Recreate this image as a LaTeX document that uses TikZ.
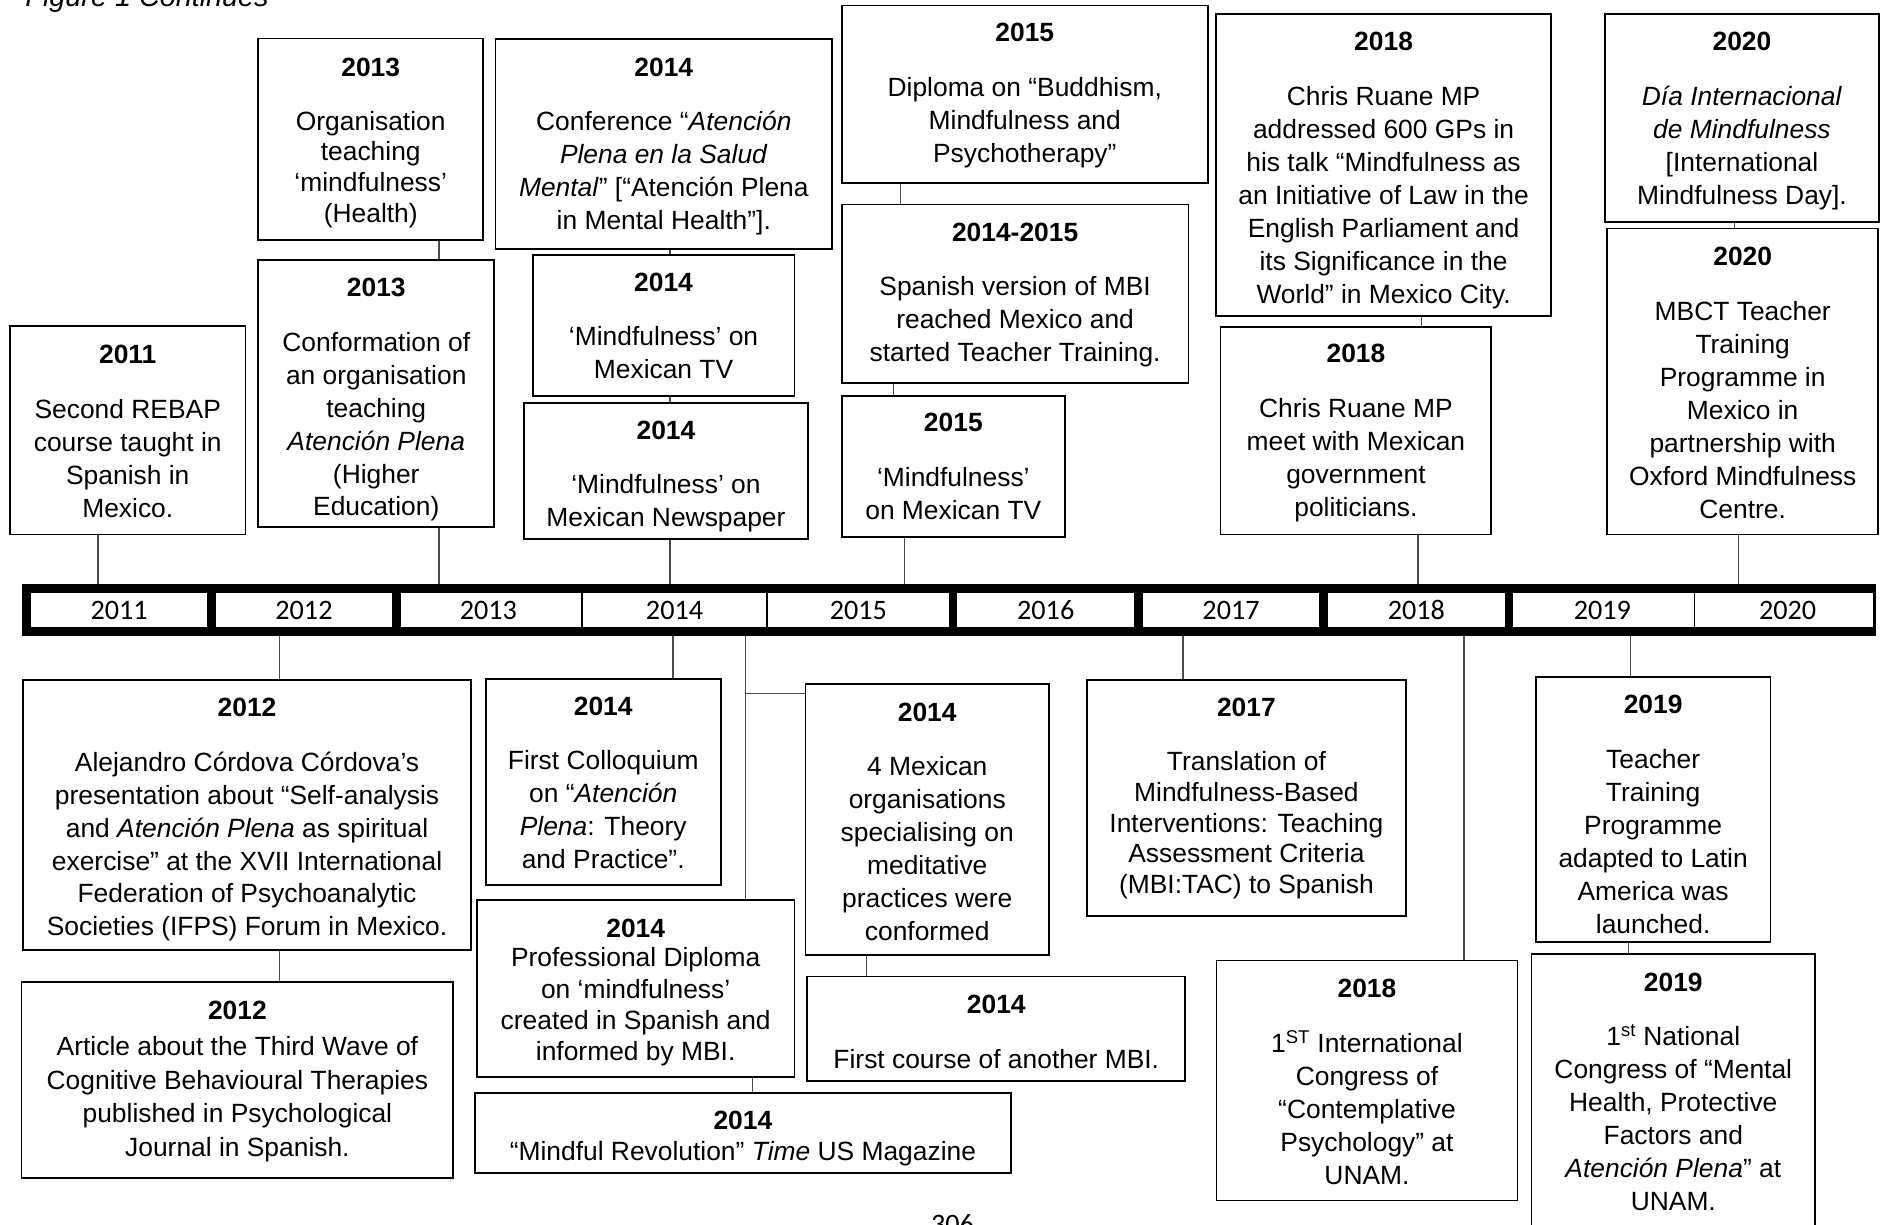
\documentclass[tikz,border=0pt]{standalone}
\usepackage{fontspec}
\setmainfont{Liberation Sans}
\newfontfamily\calfont{Carlito}
% \yr[gap after title]{downward shift of the text block}{year}
\newcommand\yr[3][18pt]{\rule{0pt}{\dimexpr 15.5pt+#2pt*2\relax}\textbf{#3}\\[#1]}
\newcommand\EvBox[7][]{%
  \node[evbox,#1,minimum width={(#5-#3)*1pt},minimum height={(#6-#4)*1pt}] (#2) at ({(#3+#5)/2},{(#4+#6)/2}) {#7};}
\newcommand\YearCell[5][0]{%
  \node[yearcell,minimum width={(#5-#4)*1pt}] (#2) at ({(#4+#5)/2},508.5) {\hspace*{#1pt}#3\hspace*{-#1pt}};}
\begin{document}
\begin{tikzpicture}[x=1pt,y=-1pt,
  evbox/.style={draw=black,line width=1.5pt,align=center,inner sep=0pt,font=\fontsize{22}{27.5}\selectfont},
  conn/.style={draw=black!70,line width=1.2pt},
  yearcell/.style={fill=white,inner sep=0pt,minimum height=29pt,font=\calfont\fontsize{23.5}{24}\selectfont},
  barstyle/.style={fill=black,inner sep=0pt},
  pagetext/.style={inner sep=0pt}]
\useasboundingbox (0,0) rectangle (1568,1021);

% heading and page number (cut by the page edge, as in the source)
\node[pagetext,anchor=base west,font=\itshape\fontsize{24}{24}\selectfont] (figtitle) at (21,5.5) {Figure 1 Continues};
\node[pagetext,anchor=base,font=\calfont\fontsize{23.5}{24}\selectfont] (pagenum) at (794,1028.5) {306};

% timeline bar
\node[barstyle,minimum width=1545.7pt,minimum height=43.3pt] (bar) at (791.15,508.35) {};
\YearCell{y2011}{2011}{25.8}{172.8}
\YearCell{y2012}{2012}{180.0}{326.8}
\YearCell[-2]{y2013}{2013}{334.0}{484.3}
\YearCell{y2014}{2014}{485.7}{638.9}
\YearCell{y2015}{2015}{640.3}{790.8}
\YearCell{y2016}{2016}{798.0}{945.4}
\YearCell{y2017}{2017}{952.6}{1099.8}
\YearCell{y2018}{2018}{1107.0}{1254.4}
\YearCell[-1]{y2019}{2019}{1261.6}{1411.9}
\YearCell[3]{y2020}{2020}{1413.3}{1561.0}

% ---------- events above the bar ----------
\EvBox{b2011}{8.3}{271.7}{204.7}{445.5}{\yr{1}{2011}Second REBAP\\course taught in\\Spanish in\\Mexico.}
\EvBox[font=\fontsize{22}{25.7}\selectfont]{b2013a}{215.3}{32.1}{402.8}{200}{\yr[19.3pt]{3}{2013}Organisation\\teaching\\‘mindfulness’\\(Health)}
\EvBox{b2013b}{215.3}{216.7}{412}{439.6}{\yr{5}{2013}Conformation of\\an organisation\\teaching\\\textit{Atención Plena}\\(Higher\\Education)}
\EvBox{b2014conf}{413}{32.7}{693.7}{207.5}{\yr{2}{2014}Conference “\textit{Atención}\\\textit{Plena en la Salud}\\\textit{Mental}” [“Atención Plena\\in Mental Health”].}
\EvBox{b2014tv}{444}{212.8}{662.3}{330.4}{\yr{0}{2014}‘Mindfulness’ on\\Mexican TV}
\EvBox{b2014news}{437}{335.7}{673.3}{449.4}{\yr{4.5}{2014}‘Mindfulness’ on\\Mexican Newspaper}
\EvBox{b2015dip}{701.7}{4.5}{1006.8}{152.4}{\yr{1}{2015}Diploma on “Buddhism,\\Mindfulness and\\Psychotherapy”}
\EvBox{b1415}{701.7}{170.5}{990.7}{319.3}{\yr{1}{2014-2015}Spanish version of MBI\\reached Mexico and\\started Teacher Training.}
\EvBox{b2015tv}{701.7}{330.4}{887.7}{447.3}{\yr{0}{2015}‘Mindfulness’\\on Mexican TV}
\EvBox{b2018a}{1013.7}{11.9}{1293}{263.4}{\yr{4.5}{2018}Chris Ruane MP\\addressed 600 GPs in\\his talk “Mindfulness as\\an Initiative of Law in the\\English Parliament and\\its Significance in the\\World” in Mexico City.}
\EvBox{b2018b}{1017.4}{272.3}{1243.2}{445.5}{\yr{2}{2018}Chris Ruane MP\\meet with Mexican\\government\\politicians.}
\EvBox{b2020a}{1337.7}{11.9}{1566.5}{185}{\yr{2.5}{2020}\textit{Día Internacional}\\\textit{de Mindfulness}\\{[}International\\Mindfulness Day].}
\EvBox{b2020b}{1339.6}{190.5}{1565.8}{445.5}{\yr{1}{2020}MBCT Teacher\\Training\\Programme in\\Mexico in\\partnership with\\Oxford Mindfulness\\Centre.}

% ---------- events below the bar ----------
\EvBox{b2012a}{19.4}{566.7}{392.5}{791.8}{\yr{4}{2012}Alejandro Córdova Córdova’s\\presentation about “Self-analysis\\and \textit{Atención Plena} as spiritual\\exercise” at the XVII International\\Federation of Psychoanalytic\\Societies (IFPS) Forum in Mexico.}
\EvBox[font=\fontsize{22}{28}\selectfont]{b2012b}{18}{818.3}{377.8}{981.7}{\yr[2pt]{1.5}{2012}Article about the Third Wave of\\Cognitive Behavioural Therapies\\published in Psychological\\Journal in Spanish.}
\EvBox{b2014col}{404.8}{566.3}{600.9}{737.8}{\yr{0.5}{2014}First Colloquium\\on “\textit{Atención}\\\textit{Plena}: Theory\\and Practice”.}
\EvBox[font=\fontsize{22}{26}\selectfont]{b2014dip}{397.5}{750.4}{662.3}{897.8}{\yr[-1pt]{3}{2014}Professional Diploma\\on ‘mindfulness’\\created in Spanish and\\informed by MBI.}
\EvBox{b2014org}{671.5}{570}{874.4}{796}{\yr{2}{2014}4 Mexican\\organisations\\specialising on\\meditative\\practices were\\conformed}
\EvBox{b2014course}{673}{814}{988}{901}{\yr{2.5}{2014}First course of another MBI.}
\EvBox{b2014time}{395.8}{910.8}{842.8}{978}{\yr[-1.5pt]{4.5}{2014}“Mindful Revolution” \textit{Time} US Magazine}
\EvBox[font=\fontsize{22}{25.75}\selectfont]{b2017}{906}{566.7}{1172}{763.5}{\yr[19.25pt]{0.5}{2017}Translation of\\Mindfulness-Based\\Interventions: Teaching\\Assessment Criteria\\(MBI:TAC) to Spanish}
\EvBox{b2018c}{1014}{800.7}{1265}{1000.8}{\yr{1}{2018}1\textsuperscript{ST} International\\Congress of\\“Contemplative\\Psychology” at\\UNAM.}
\EvBox{b2019a}{1280.3}{564.6}{1475.8}{785.4}{\yr{4}{2019}Teacher\\Training\\Programme\\adapted to Latin\\America was\\launched.}
\EvBox{b2019b}{1276.7}{795.3}{1513}{1022}{\yr{1.5}{2019}1\textsuperscript{st} National\\Congress of “Mental\\Health, Protective\\Factors and\\\textit{Atención Plena}” at\\UNAM.}

% ---------- connectors above ----------
\draw[conn] (81.7,0 |- b2011.south) -- (81.7,0 |- bar.north);
\draw[conn] (366,0 |- b2013a.south) -- (366,0 |- b2013b.north);
\draw[conn] (366,0 |- b2013b.south) -- (366,0 |- bar.north);
\draw[conn] (558.5,0 |- b2014conf.south) -- (558.5,0 |- b2014tv.north);
\draw[conn] (558.5,0 |- b2014tv.south) -- (558.5,0 |- b2014news.north);
\draw[conn] (558.5,0 |- b2014news.south) -- (558.5,0 |- bar.north);
\draw[conn] (750.5,0 |- b2015dip.south) -- (750.5,0 |- b1415.north);
\draw[conn] (745,0 |- b1415.south) -- (745,0 |- b2015tv.north);
\draw[conn] (754,0 |- b2015tv.south) -- (754,0 |- bar.north);
\draw[conn] (1185,0 |- b2018a.south) -- (1185,0 |- b2018b.north);
\draw[conn] (1182,0 |- b2018b.south) -- (1182,0 |- bar.north);
\draw[conn] (1446,0 |- b2020a.south) -- (1446,0 |- b2020b.north);
\draw[conn] (1449,0 |- b2020b.south) -- (1449,0 |- bar.north);

% ---------- connectors below ----------
\draw[conn] (233,0 |- bar.south) -- (233,0 |- b2012a.north);
\draw[conn] (233,0 |- b2012a.south) -- (233,0 |- b2012b.north);
\draw[conn] (561,0 |- bar.south) -- (561,0 |- b2014col.north);
\coordinate (j2014) at (621.5,578);
\draw[conn] (621.5,0 |- bar.south) -- (621.5,0 |- b2014dip.north);
\draw[conn] (j2014) -- (j2014 -| b2014org.west);
\draw[conn] (722.5,0 |- b2014org.south) -- (722.5,0 |- b2014course.north);
\draw[conn] (627.5,0 |- b2014dip.south) -- (627.5,0 |- b2014time.north);
\draw[conn] (986,0 |- bar.south) -- (986,0 |- b2017.north);
\draw[conn] (1220.5,0 |- bar.south) -- (1220.5,0 |- b2018c.north);
\draw[conn] (1359,0 |- bar.south) -- (1359,0 |- b2019a.north);
\draw[conn] (1357.5,0 |- b2019a.south) -- (1357.5,0 |- b2019b.north);
\end{tikzpicture}
\end{document}
